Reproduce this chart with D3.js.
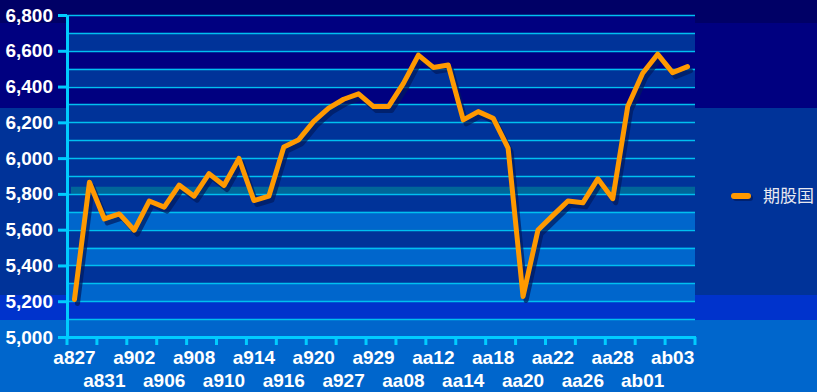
<!DOCTYPE html>
<html>
<head>
<meta charset="utf-8">
<script src="https://cdn.jsdelivr.net/npm/d3@7"></script>
<style>
  html, body { margin: 0; padding: 0; background: #000080; }
  svg { display: block; }
</style>
</head>
<body>
<svg id="chart" width="817" height="392"></svg>
<script>
// categories (only every other one gets a label on the axis)
const categories = [
    'a827', 'a830', 'a831', 'a901', 'a902', 'a905', 'a906', 'a907', 'a908', 'a909',
    'a910', 'a913', 'a914', 'a915', 'a916', 'a919', 'a920', 'a926', 'a927', 'a928',
    'a929', 'aa01', 'aa08', 'aa11', 'aa12', 'aa13', 'aa14', 'aa15', 'aa18', 'aa19',
    'aa20', 'aa21', 'aa22', 'aa25', 'aa26', 'aa27', 'aa28', 'aa29', 'ab01', 'ab02',
    'ab03', 'ab04'
];
const seriesName = '期股国';
const values = [
    5210, 5865, 5660, 5688, 5597, 5760, 5726, 5849, 5787, 5913,
    5847, 5998, 5763, 5787, 6062, 6103, 6205, 6279, 6329, 6359,
    6288, 6288, 6418, 6576, 6507, 6520, 6214, 6260, 6223, 6056,
    5227, 5598, 5680, 5760, 5750, 5884, 5773, 6288, 6474, 6581,
    6478, 6511
];
const yTicks = [5000, 5200, 5400, 5600, 5800, 6000, 6200, 6400, 6600, 6800];
const yGrid = d3.range(5000, 6801, 100);

const svg = d3.select('#chart');
const plot = { left: 67, right: 695, top: 15, bottom: 337 };

const x = d3.scaleBand().domain(categories).range([plot.left, plot.right]).padding(0);
const y = d3.scaleLinear().domain([5000, 6800]).range([plot.bottom, plot.top]);

// page background bands
const bg = [
    { y0: 0, y1: 23, c: '#000066' },
    { y0: 23, y1: 108, c: '#000080' },
    { y0: 108, y1: 295, c: '#003399' },
    { y0: 295, y1: 320, c: '#0033cc' },
    { y0: 320, y1: 392, c: '#0066cc' }
];
svg.selectAll('.bg').data(bg).enter().append('rect')
    .attr('x', 0).attr('width', 817)
    .attr('y', d => d.y0).attr('height', d => d.y1 - d.y0)
    .attr('fill', d => d.c);
svg.append('rect').attr('x', plot.left).attr('y', plot.top)
    .attr('width', plot.right - plot.left).attr('height', 23 - plot.top)
    .attr('fill', '#000080');

// interlaced bands in the plot
const bands = yGrid.filter(v => v < 6800 && (v / 100) % 2 === 0);
svg.selectAll('.band').data(bands).enter().append('rect')
    .attr('x', plot.left).attr('width', plot.right - plot.left)
    .attr('y', d => y(d + 100)).attr('height', d => y(d) - y(d + 100))
    .attr('fill', d => d >= 5800 ? '#003399' : '#0066cc');
svg.append('rect')
    .attr('x', plot.left + 4).attr('width', plot.right - plot.left - 4)
    .attr('y', y(5840)).attr('height', y(5800) - y(5840))
    .attr('fill', '#006699');

// gridlines
svg.selectAll('.grid').data(yGrid.filter(v => v > 5000)).enter().append('line')
    .attr('x1', plot.left).attr('x2', plot.right)
    .attr('y1', d => Math.round(y(d)) + 0.5).attr('y2', d => Math.round(y(d)) + 0.5)
    .attr('stroke', '#00c0f0').attr('stroke-width', 1.3);

// series
const line = d3.line()
    .x((d, i) => x(categories[i]) + x.bandwidth() / 2)
    .y(d => y(d));

svg.append('path').datum(values)
    .attr('d', line)
    .attr('transform', 'translate(3,4)')
    .attr('fill', 'none')
    .attr('stroke', '#001a5c').attr('stroke-opacity', 0.7)
    .attr('stroke-width', 5).attr('stroke-linejoin', 'round').attr('stroke-linecap', 'round');

svg.append('path').datum(values)
    .attr('d', line)
    .attr('fill', 'none')
    .attr('stroke', '#ff9900')
    .attr('stroke-width', 5).attr('stroke-linejoin', 'round').attr('stroke-linecap', 'round');

// y axis
const yAxis = svg.append('g')
    .attr('transform', `translate(${plot.left},0)`)
    .call(d3.axisLeft(y).tickValues(yTicks).tickFormat(d3.format(',')).tickSize(9).tickSizeOuter(0).tickPadding(5));
yAxis.select('.domain').attr('stroke', '#00ccff').attr('stroke-width', 3);
yAxis.selectAll('.tick line').attr('stroke', '#00ccff').attr('stroke-width', 3);
yAxis.selectAll('.tick text')
    .attr('fill', '#ffffff')
    .style('font', 'bold 19px "Liberation Sans", Arial, sans-serif');

// x axis
const xg = svg.append('g');
xg.append('line')
    .attr('x1', plot.left - 1.5).attr('x2', plot.right + 1)
    .attr('y1', plot.bottom + 0.5).attr('y2', plot.bottom + 0.5)
    .attr('stroke', '#00ccff').attr('stroke-width', 3);
const tickPos = categories.filter((_, i) => i % 2 === 0).map(c => x(c)).concat([plot.right]);
xg.selectAll('.xtick').data(tickPos).enter().append('line')
    .attr('x1', d => d).attr('x2', d => d)
    .attr('y1', plot.bottom).attr('y2', plot.bottom + 8)
    .attr('stroke', '#00ccff').attr('stroke-width', 3);
xg.selectAll('.xlabel').data(categories.filter((_, i) => i % 2 === 0)).enter().append('text')
    .attr('x', d => x(d) + x.bandwidth() / 2)
    .attr('y', (d, i) => i % 2 === 0 ? 364 : 387)
    .attr('text-anchor', 'middle')
    .attr('fill', '#ffffff')
    .style('font', 'bold 19px "Liberation Sans", Arial, sans-serif')
    .text(d => d);

// legend
const lg = svg.append('g').attr('transform', 'translate(731,196)');
lg.append('rect').attr('x', 2).attr('y', -1).attr('width', 20).attr('height', 6).attr('rx', 3)
    .attr('fill', '#001a5c').attr('opacity', 0.7);
lg.append('rect').attr('x', 0).attr('y', -3).attr('width', 20).attr('height', 6).attr('rx', 3)
    .attr('fill', '#ff9900');
lg.append('text')
    .attr('x', 32).attr('y', 6)
    .attr('fill', '#e8e8f0')
    .style('font', '17px "Noto Sans CJK SC", sans-serif')
    .text(seriesName);
</script>
</body>
</html>
